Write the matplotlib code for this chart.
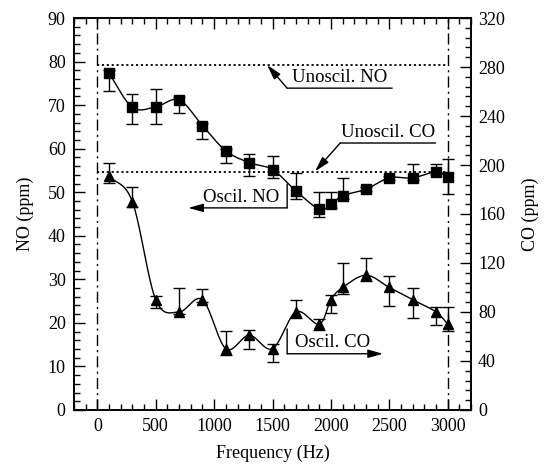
import numpy as np
import matplotlib
matplotlib.use("Agg")
import matplotlib.pyplot as plt
from matplotlib.ticker import MultipleLocator

plt.rcParams['font.family'] = ['Liberation Serif', 'DejaVu Serif']
plt.rcParams['mathtext.fontset'] = 'stix'

# ---------------- data ----------------
freq = [100, 300, 500, 700, 900, 1100, 1300, 1500, 1700, 1900, 2000, 2100, 2300, 2500, 2700, 2900, 3000]
no_ppm = [77.3, 69.5, 69.6, 71.2, 65.3, 59.5, 56.8, 55.2, 50.3, 46.1, 47.2, 49.2, 50.7, 53.3, 53.3, 54.7, 53.6]
no_err_lo = [4.0, 3.8, 3.9, 3.1, 3.0, 2.9, 3.0, 2.0, 1.9, 1.9, 0.8, 0.8, 0.5, 0.5, 0.5, 0.5, 4.0]
no_err_hi = [0.8, 3.1, 4.1, 0.7, 0.7, 0.5, 1.9, 3.1, 4.0, 4.0, 2.8, 4.0, 0.5, 0.5, 3.2, 1.8, 4.0]
co_ppm = [191, 170, 90, 80, 90, 50, 61, 50, 80, 70, 90, 100, 110, 100, 90, 80, 70]
co_err_lo = [6, 4.6, 6.8, 2, 2, 5, 11, 10.7, 5, 4.6, 11, 5.7, 5, 15.3, 15.3, 10.3, 5.3]
co_err_hi = [11, 11.7, 3.2, 19.6, 8.5, 14.6, 4, 4, 9.6, 4.6, 3.6, 19.6, 14.2, 9.2, 9.2, 3.9, 14.2]
unoscil_no = 79.3
unoscil_co = 194
freq_limits = [0, 3000]

x_ticks = [0, 500, 1000, 1500, 2000, 2500, 3000]
no_ticks = [0, 10, 20, 30, 40, 50, 60, 70, 80, 90]
co_ticks = [0, 40, 80, 120, 160, 200, 240, 280, 320]


def smooth(x, y, n=20):
    """Catmull-Rom curve through the data points (for drawing only)."""
    x = np.asarray(x, float); y = np.asarray(y, float)
    px = np.concatenate([[2 * x[0] - x[1]], x, [2 * x[-1] - x[-2]]])
    py = np.concatenate([[2 * y[0] - y[1]], y, [2 * y[-1] - y[-2]]])
    xs, ys = [], []
    t = np.linspace(0, 1, n, endpoint=False)
    for i in range(1, len(px) - 2):
        for P, out in ((px, xs), (py, ys)):
            p0, p1, p2, p3 = P[i - 1], P[i], P[i + 1], P[i + 2]
            out.extend(0.5 * ((2 * p1) + (-p0 + p2) * t + (2 * p0 - 5 * p1 + 4 * p2 - p3) * t ** 2
                              + (-p0 + 3 * p1 - 3 * p2 + p3) * t ** 3))
    xs.append(x[-1]); ys.append(y[-1])
    return np.array(xs), np.array(ys)


fig = plt.figure(figsize=(5.44, 4.75), dpi=100)
ax = fig.add_axes([0.136, 0.137, 0.730, 0.825])
ax2 = ax.twinx()

FS = 13
for a in (ax, ax2):
    for s in a.spines.values():
        s.set_linewidth(1.2)

ax.set_xlim(-200, 3200)
ax.set_ylim(0, 90)
ax2.set_ylim(0, 320)

ax.set_xticks(x_ticks)
ax.set_yticks(no_ticks)
ax2.set_yticks(co_ticks)
ax.xaxis.set_minor_locator(MultipleLocator(100))
ax.yaxis.set_minor_locator(MultipleLocator(2))
ax2.yaxis.set_minor_locator(MultipleLocator(8))
ax.tick_params(which='both', direction='in', top=True, right=False, labelsize=FS, width=1.0)
ax.tick_params(which='major', length=8, pad=6)
ax.tick_params(which='minor', length=4)
ax2.tick_params(which='both', direction='in', labelsize=FS, width=1.0)
ax2.tick_params(which='major', length=8, pad=5)
ax2.tick_params(which='minor', length=4)

ax.set_xlabel('Frequency (Hz)', fontsize=FS, labelpad=7)
ax.set_ylabel('NO (ppm)', fontsize=FS, labelpad=10)
ax2.set_ylabel('CO (ppm)', fontsize=FS, labelpad=12)

# reference lines
for f in freq_limits:
    ax.axvline(f, color='black', lw=1.0, ls=(0, (8, 3, 1.5, 3)))
ax.plot(freq_limits, [unoscil_no, unoscil_no], color='black', lw=1.3, ls=(0, (1.2, 1.5)))
ax2.plot(freq_limits, [unoscil_co, unoscil_co], color='black', lw=1.3, ls=(0, (1.2, 1.5)))

# NO series
sx, sy = smooth(freq, no_ppm)
ax.plot(sx, sy, color='black', lw=1.0)
ax.errorbar(freq, no_ppm, yerr=[no_err_lo, no_err_hi], fmt='s', color='black', ms=6.5,
            capsize=4, elinewidth=1.0, capthick=1.0)

# CO series
cx, cy = smooth(freq, co_ppm)
ax2.plot(cx, cy, color='black', lw=1.0)
ax2.errorbar(freq, co_ppm, yerr=[co_err_lo, co_err_hi], fmt='^', color='black', ms=7,
             capsize=4, elinewidth=1.0, capthick=1.0)

# annotations (NO-axis coordinates)
AS = dict(arrowstyle='-|>,head_length=0.9,head_width=0.25', color='black', lw=1.0,
          shrinkA=0, shrinkB=0, mutation_scale=10)
LS = dict(arrowstyle='-', color='black', lw=1.0, shrinkA=0, shrinkB=0)
TFS = 13.5

# Unoscil. NO
ax.annotate('', xy=(1454, 79.2), xytext=(1625, 73.9), arrowprops=AS)
ax.annotate('', xy=(2524, 73.9), xytext=(1625, 73.9), arrowprops=LS)
ax.text(1668, 74.4, 'Unoscil. NO', fontsize=TFS, va='bottom', ha='left')

# Unoscil. CO
ax.annotate('', xy=(1865, 54.8), xytext=(2079, 61.3), arrowprops=AS)
ax.annotate('', xy=(2895, 61.3), xytext=(2079, 61.3), arrowprops=LS)
ax.text(2090, 61.8, 'Unoscil. CO', fontsize=TFS, va='bottom', ha='left')

# Oscil. NO
ax.annotate('', xy=(1625, 46.4), xytext=(1625, 51.9), arrowprops=LS)
ax.annotate('', xy=(778, 46.4), xytext=(1625, 46.4), arrowprops=AS)
ax.text(905, 46.9, 'Oscil. NO', fontsize=TFS, va='bottom', ha='left')

# Oscil. CO
ax.annotate('', xy=(1625, 12.9), xytext=(1625, 18.6), arrowprops=LS)
ax.annotate('', xy=(2446, 12.9), xytext=(1625, 12.9), arrowprops=AS)
ax.text(1690, 13.5, 'Oscil. CO', fontsize=TFS, va='bottom', ha='left')

fig.savefig('out.png', dpi=100)
